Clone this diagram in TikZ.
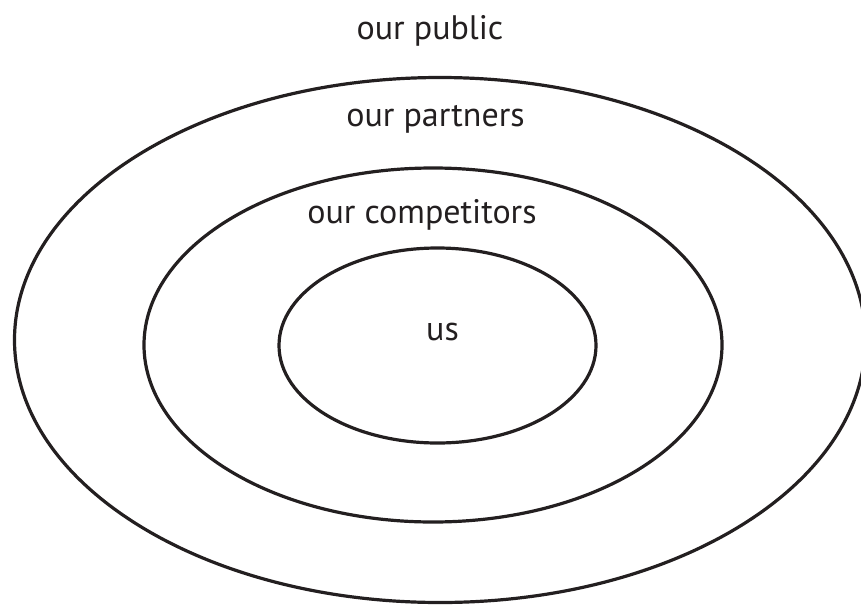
\documentclass[tikz,border=0pt]{standalone}
\usepackage{fontspec}
\setmainfont{PT Sans}
\definecolor{ink}{HTML}{231F20}
\begin{document}
\begin{tikzpicture}[x=1pt,y=-1pt,
  ring/.style={draw=ink,line width=3.2pt},
  label/.style={anchor=base,inner sep=0pt,text=ink,font=\fontsize{34}{40}\selectfont}]
\useasboundingbox (0,0) rectangle (861,605);
\clip (0,0) rectangle (861,605);
% three nested rings
\draw[ring] (440,340) ellipse [x radius=425.5,y radius=262.5];
\draw[ring] (433,345) ellipse [x radius=289,y radius=177];
\draw[ring] (437.5,345.5) ellipse [x radius=158.5,y radius=97.5];
% ring labels
\node[label] (public) at (430,39.5) {our public};
\node[label] (partners) at (435.5,126.5) {our partners};
\node[label] (competitors) at (422,223.5) {our competitors};
\node[label] (us) at (442.5,340) {us};
\end{tikzpicture}
\end{document}
